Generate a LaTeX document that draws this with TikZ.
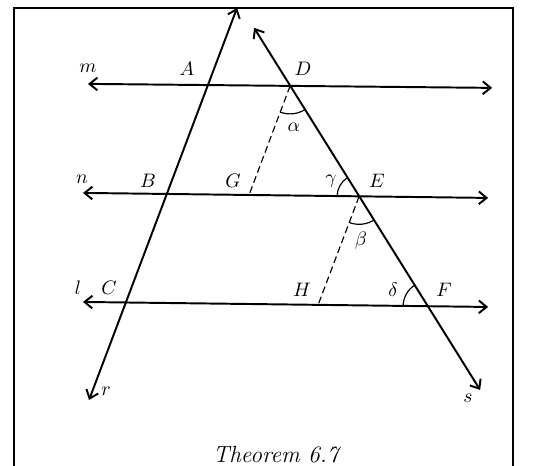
\documentclass[tikz,border=0pt]{standalone}
\usetikzlibrary{arrows.meta}
\begin{document}
\begin{tikzpicture}[
    scale=0.018,
    myline/.style={line width=1pt, {Straight Barb[length=4pt,width=6.5pt]}-{Straight Barb[length=4pt,width=6.5pt]}},
    mydash/.style={semithick, dash pattern=on 3.5pt off 2pt},
    myarc/.style={semithick},
    mylabel/.style={font=\normalsize, inner sep=1pt}
]
    \useasboundingbox (0,0) rectangle (551,465);
    \clip (0,0) rectangle (551,465);

    % frame
    \draw[line width=1.1pt] (14,-10) -- (14,457) -- (513,457) -- (513,-10);

    % parallel lines m, n, l
    \coordinate (mL) at (88,381);  \coordinate (mR) at (492,377);
    \coordinate (nL) at (83,272);  \coordinate (nR) at (488,267);
    \coordinate (lL) at (83,163);  \coordinate (lR) at (488,158);
    \draw[myline] (mL) -- (mR);
    \draw[myline] (nL) -- (nR);
    \draw[myline] (lL) -- (lR);

    % transversals r and s
    \coordinate (rTop) at (237,457); \coordinate (rBot) at (89,65);
    \coordinate (sTop) at (254,437); \coordinate (sBot) at (480,75);
    \draw[myline] (rBot) -- (rTop);
    \draw[myline] (sTop) -- (sBot);

    % points
    \coordinate (A) at (208,380);
    \coordinate (B) at (167,271);
    \coordinate (C) at (126,162.5);
    \coordinate (D) at (290,379);
    \coordinate (E) at (359,268.6);
    \coordinate (F) at (428,158.7);
    \coordinate (G) at (249,270);
    \coordinate (H) at (318,160.1);

    % dashed parallels to r
    \draw[mydash] (D) -- (G);
    \draw[mydash] (E) -- (H);

    % angles
    \draw[myarc] ([shift={(-110.6:28)}]D) arc[start angle=-110.6, end angle=-57.9, radius=28];
    \draw[myarc] ([shift={(-110.6:28)}]E) arc[start angle=-110.6, end angle=-57.9, radius=28];
    \draw[myarc] ([shift={(122.1:22)}]E) arc[start angle=122.1, end angle=180, radius=22];
    \draw[myarc] ([shift={(122.1:25)}]F) arc[start angle=122.1, end angle=180, radius=25];

    % labels
    \node[mylabel] (labm) at (88,397) {$m$};
    \node[mylabel] (labA) at (187,396) {$A$};
    \node[mylabel] (labD) at (303,396) {$D$};
    \node[mylabel] (labal) at (294,338) {$\alpha$};
    \node[mylabel] (labn) at (82,286) {$n$};
    \node[mylabel] (labB) at (148,284) {$B$};
    \node[mylabel] (labG) at (233,284) {$G$};
    \node[mylabel] (labga) at (331,284) {$\gamma$};
    \node[mylabel] (labE) at (377,284) {$E$};
    \node[mylabel] (labbe) at (361,224) {$\beta$};
    \node[mylabel] (labl) at (78,177) {$l$};
    \node[mylabel] (labC) at (109,177) {$C$};
    \node[mylabel] (labH) at (302,175) {$H$};
    \node[mylabel] (labde) at (393,175) {$\delta$};
    \node[mylabel] (labF) at (444,175) {$F$};
    \node[mylabel] (labr) at (106,74) {$r$};
    \node[mylabel] (labs) at (468,67) {$s$};

    \node[mylabel, font=\large, anchor=base] (caption) at (277,3) {\textit{Theorem 6.7}};
\end{tikzpicture}
\end{document}
